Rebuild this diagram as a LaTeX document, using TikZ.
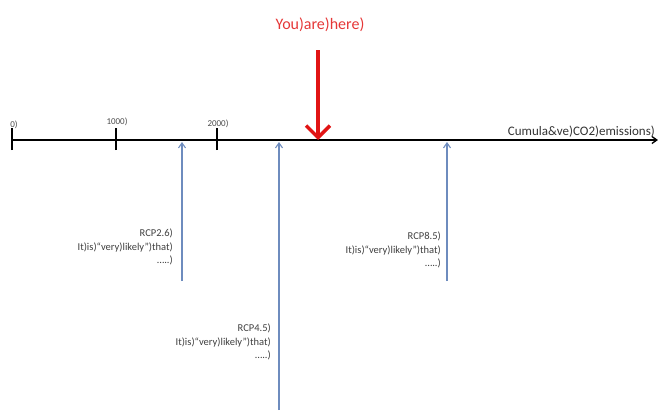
\documentclass[tikz,border=0pt]{standalone}
\usepackage{fontspec}
\setmainfont{Carlito}
\usetikzlibrary{arrows.meta}
\definecolor{rcpblue}{RGB}{110,140,190}
\definecolor{youred}{RGB}{225,20,20}
\begin{document}
\begin{tikzpicture}[x=1pt,y=-1pt,
  tick/.style={line width=1.6pt,black},
  ticklbl/.style={font=\fontsize{9}{10}\selectfont,text=black!70,inner sep=0pt},
  rcparrow/.style={draw=rcpblue,line width=1.6pt,-{Straight Barb[length=5pt,width=7pt,line width=1.1pt]}},
  rcptext/.style={font=\fontsize{10.5}{13.5}\selectfont,text=black!75,align=right,anchor=north east,inner sep=0pt}]
\useasboundingbox (0,0) rectangle (658,410);
% axis
\coordinate (a0) at (12,140);
\coordinate (aend) at (658,140);
\draw[line width=1.3pt,-{Straight Barb[length=5pt,width=7pt]}] (a0) -- (aend);
% ticks
\coordinate (t0) at (12,140);
\coordinate (t1) at (116,140);
\coordinate (t2) at (217,140);
\draw[tick] ([yshift=-10pt]t0) -- ([yshift=12pt]t0);
\draw[tick] ([yshift=-10pt]t1) -- ([yshift=12pt]t1);
\draw[tick] ([yshift=-10pt]t2) -- ([yshift=12pt]t2);
\node[ticklbl] (l0) at (14,125) {0)};
\node[ticklbl] (l1) at (117,122) {1000)};
\node[ticklbl] (l2) at (218,124) {2000)};
\node[font=\fontsize{13}{15}\selectfont,text=black!80,anchor=south east,inner sep=0pt] (axlbl) at (655,137) {Cumula\&ve)CO2)emissions)};
% you are here
\node[font=\fontsize{16}{18}\selectfont,text=youred!85,inner sep=0pt] (you) at (320,25) {You)are)here)};
\coordinate (ytop) at (318,50);
\coordinate (ybot) at (318,140);
\draw[draw=youred,line width=4pt,-{Straight Barb[length=12pt,width=24pt,line width=3.5pt]}] (ytop) -- (ybot);
% RCP arrows
\coordinate (r26b) at (182,281);
\coordinate (r26t) at (182,142);
\coordinate (r45b) at (279,410);
\coordinate (r45t) at (279,142);
\coordinate (r85b) at (447,281);
\coordinate (r85t) at (447,142);
\draw[rcparrow] (r26b) -- (r26t);
\draw[rcparrow] (r45b) -- (r45t);
\draw[rcparrow] (r85b) -- (r85t);
% RCP texts
\node[rcptext] (t26) at (173,229) {RCP2.6)\\It)is)“very)likely”)that)\\…..)};
\node[rcptext] (t45) at (271,324) {RCP4.5)\\It)is)“very)likely”)that)\\…..)};
\node[rcptext] (t85) at (441,232) {RCP8.5)\\It)is)“very)likely”)that)\\…..)};
\end{tikzpicture}
\end{document}
